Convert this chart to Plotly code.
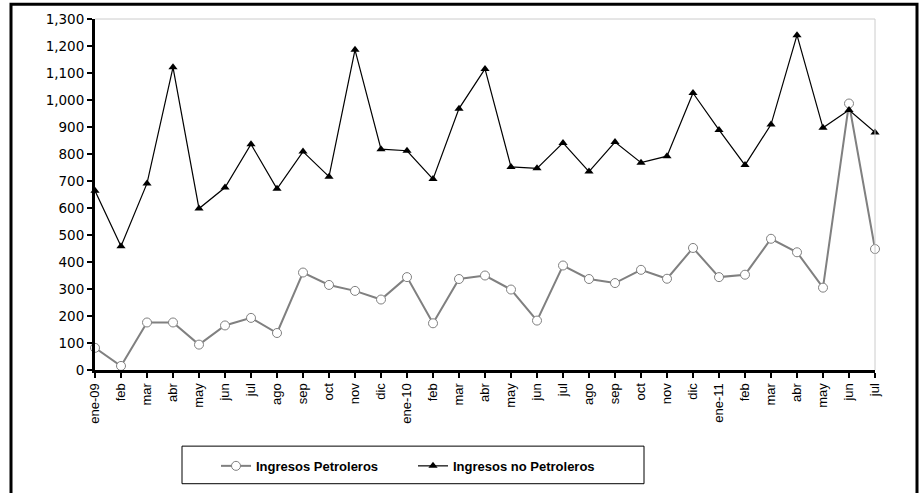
import plotly.graph_objects as go

months = ["ene-09","feb","mar","abr","may","jun","jul","ago","sep","oct","nov","dic",
          "ene-10","feb","mar","abr","may","jun","jul","ago","sep","oct","nov","dic",
          "ene-11","feb","mar","abr","may","jun","jul"]
petroleros = [82,15,176,176,94,165,193,137,361,315,293,261,
              344,173,337,350,298,183,387,337,322,371,338,452,
              344,353,486,436,305,987,448]
no_petroleros = [664,458,691,1121,598,676,836,671,809,716,1186,818,
                 812,707,968,1115,752,747,841,735,844,768,792,1026,
                 889,759,909,1240,897,963,880]
yticks = list(range(0, 1301, 100))

x = list(range(len(months)))

fig = go.Figure()
fig.add_trace(go.Scatter(
    x=x, y=petroleros, name="Ingresos Petroleros", mode="lines+markers",
    line=dict(color="#808080", width=2),
    marker=dict(symbol="circle", size=9, color="white", line=dict(color="#808080", width=1)),
    cliponaxis=False))
fig.add_trace(go.Scatter(
    x=x, y=no_petroleros, name="Ingresos no Petroleros", mode="lines+markers",
    line=dict(color="black", width=1.2),
    marker=dict(symbol="triangle-up", size=8, color="black"),
    cliponaxis=False))

fig.update_layout(
    width=920, height=493,
    margin=dict(l=95, r=45, t=19, b=119),
    plot_bgcolor="white", paper_bgcolor="white",
    font=dict(family="Liberation Sans, Arial, sans-serif", size=12, color="black"),
    showlegend=True,
    legend=dict(orientation="h", x=(216-95)/780, xanchor="left", y=(374-471)/355, yanchor="middle",
                font=dict(size=13, family="Liberation Sans, Arial, sans-serif", weight="bold"),
                bgcolor="rgba(0,0,0,0)", itemwidth=30, entrywidth=152),
    xaxis=dict(range=[0, 30], tickmode="array", tickvals=x, ticktext=months,
               tickangle=-90, showgrid=False, zeroline=False,
               showline=True, linecolor="black", linewidth=3,
               ticks="outside", ticklen=5, tickwidth=2, tickcolor="black",
               tickfont=dict(size=13)),
    yaxis=dict(range=[0, 1300], tickmode="array", tickvals=yticks,
               ticktext=[f"{v:,}" for v in yticks], showgrid=False, zeroline=False,
               showline=True, linecolor="black", linewidth=3,
               ticks="outside", ticklen=5, tickwidth=2, tickcolor="black",
               tickfont=dict(size=13.5, family="DejaVu Sans, sans-serif")),
)

# plot area light gray top/right border
fig.add_shape(type="line", xref="paper", yref="paper", x0=0, x1=1, y0=1, y1=1,
              line=dict(color="#cccccc", width=1))
fig.add_shape(type="line", xref="paper", yref="paper", x0=1, x1=1, y0=0, y1=1,
              line=dict(color="#cccccc", width=1))
# legend box
fig.add_shape(type="rect", xref="paper", yref="paper",
              x0=(182-95)/780, x1=(644-95)/780, y0=(374-489)/355, y1=(374-451)/355,
              line=dict(color="black", width=1))
# outer frame
fig.add_shape(type="rect", xref="paper", yref="paper",
              x0=(11-95)/780, x1=(917-95)/780, y0=(374-500)/355, y1=(374-4)/355,
              line=dict(color="black", width=3))

fig.write_html("out.html", config={"displayModeBar": False},
               post_script="document.body.style.margin='0px';")
